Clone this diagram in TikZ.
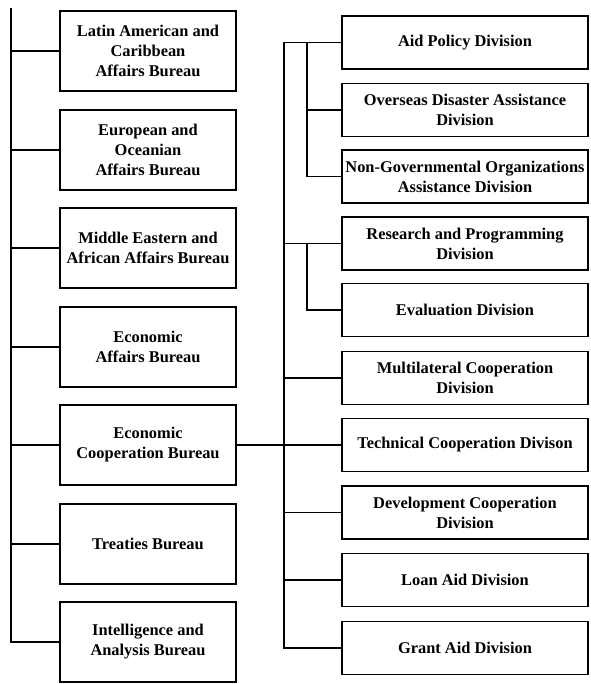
\documentclass[tikz,border=0pt]{standalone}
\usepackage{fontspec}
\setmainfont{Liberation Serif}
\begin{document}
\begin{tikzpicture}[x=1pt,y=-1pt,line width=1.6pt]
            \tikzstyle{every node}+=[inner sep=0pt]
            \tikzstyle{bureau}=[draw, line width=1.6pt, minimum width=176pt, minimum height=80pt, align=center, font=\fontsize{16.4}{20}\selectfont\bfseries]
            \tikzstyle{division}=[draw, line width=1.6pt, minimum width=246pt, minimum height=53pt, align=center, font=\fontsize{16.4}{20}\selectfont\bfseries]
            \useasboundingbox (0,0) rectangle (590,684);
            \node [bureau] (latin) at (148,51) {Latin American and\\Caribbean\\Affairs Bureau};
            \node [bureau] (europe) at (148,150) {European and\\Oceanian\\Affairs Bureau};
            \node [bureau] (mideast) at (148,248) {Middle Eastern and\\African Affairs Bureau};
            \node [bureau] (econ) at (148,347) {Economic\\Affairs Bureau};
            \node [bureau] (ecb) at (148,445) {Economic\\Cooperation Bureau};
            \node [bureau] (treaty) at (148,544) {Treaties Bureau};
            \node [bureau] (intel) at (148,642) {Intelligence and\\Analysis Bureau};
            \node [division] (aidpol) at (465,42.5) {Aid Policy Division};
            \node [division] (disaster) at (465,110) {Overseas Disaster Assistance\\Division};
            \node [division] (ngo) at (465,176.5) {Non-Governmental Organizations\\Assistance Division};
            \node [division] (research) at (465,243.5) {Research and Programming\\Division};
            \node [division] (eval) at (465,310) {Evaluation Division};
            \node [division] (multi) at (465,378) {Multilateral Cooperation\\Division};
            \node [division] (tech) at (465,445) {Technical Cooperation Divison};
            \node [division] (devel) at (465,512.5) {Development Cooperation\\Division};
            \node [division] (loan) at (465,580) {Loan Aid Division};
            \node [division] (grant) at (465,648) {Grant Aid Division};
            \coordinate (ltrunk) at (11,8);
            \coordinate (rtrunk) at (284,0);
            \coordinate (rbranch) at (307,0);
            \draw (ltrunk) |- (intel.west);
            \foreach \b in {latin,europe,mideast,econ,ecb,treaty}
                \draw (\b.west -| ltrunk) -- (\b.west);
            \draw (aidpol.west) -- (aidpol.west -| rtrunk) -- (grant.west -| rtrunk) -- (grant.west);
            \draw (ecb.east) -- (tech.west);
            \foreach \d in {research,multi,devel,loan}
                \draw (\d.west -| rtrunk) -- (\d.west);
            \draw (aidpol.west -| rbranch) |- (ngo.west);
            \draw (disaster.west -| rbranch) -- (disaster.west);
            \draw (research.west -| rbranch) |- (eval.west);
        \end{tikzpicture}
\end{document}
